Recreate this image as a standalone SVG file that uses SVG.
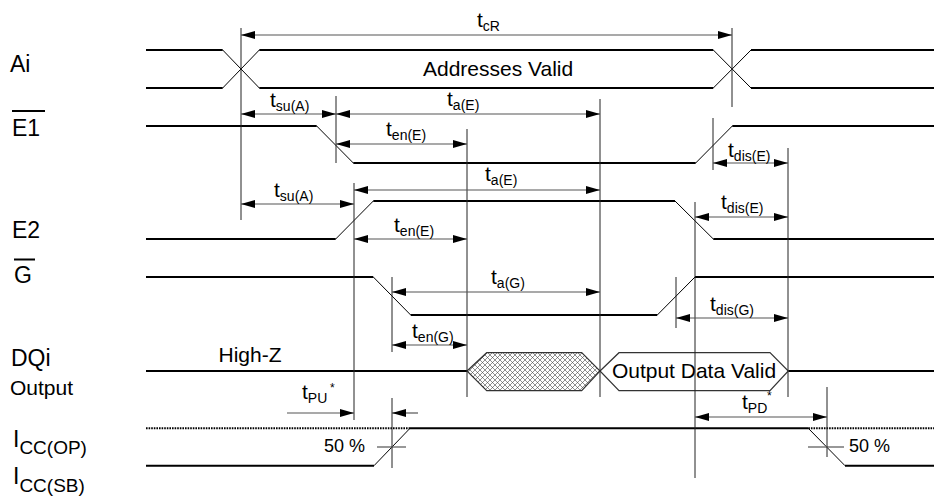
<svg xmlns="http://www.w3.org/2000/svg" width="934" height="498" viewBox="0 0 934 498">
<style>
text{font-family:"Liberation Sans",Arial,sans-serif;fill:#000}
.lbl{font-size:23px}
.mid{font-size:21px}
.t{font-size:21px}
.s{font-size:14px}
.star{font-size:12px}
.pc{font-size:18px}
.sig{stroke:#000;stroke-width:2;fill:none}
.edge{stroke:#000;stroke-width:1;fill:none}
.ref{stroke:#222;stroke-width:1;fill:none}
.dim{stroke:#555;stroke-width:1.2;fill:none;marker-start:url(#ah);marker-end:url(#ah)}
.dim1{stroke:#555;stroke-width:1.2;fill:none;marker-end:url(#ah)}
.dot{stroke:#000;stroke-width:2;fill:none;stroke-dasharray:1.6 1}
.cross{stroke:#777;stroke-width:1.3;fill:none}
</style>
<defs>
<marker id="ah" markerUnits="userSpaceOnUse" markerWidth="14" markerHeight="8" refX="14" refY="4" orient="auto-start-reverse" viewBox="0 0 14 8">
<path d="M0,0 L14,4 L0,8 z" fill="#000"/>
</marker>
<pattern id="hatch" patternUnits="userSpaceOnUse" width="5" height="5">
<rect width="5" height="5" fill="#fff"/>
<path d="M0,0 L5,5 M5,0 L0,5" stroke="#444" stroke-width="0.6"/>
</pattern>
</defs>
<rect width="934" height="498" fill="#fff"/>

<g id="labels">
<text class="lbl" x="10" y="72">Ai</text>
<text class="lbl" x="12" y="136">E1</text>
<line x1="12" y1="111" x2="45" y2="111" stroke="#000" stroke-width="2"/>
<text class="lbl" x="12" y="238">E2</text>
<text class="lbl" x="14" y="283">G</text>
<line x1="14" y1="259.5" x2="35" y2="259.5" stroke="#000" stroke-width="2"/>
<text class="lbl" x="11" y="366">DQi</text>
<text class="mid" x="10" y="395">Output</text>
<text class="lbl" x="13" y="447">I<tspan font-size="19" dy="6.5">CC(OP)</tspan></text>
<text class="lbl" x="13" y="484">I<tspan font-size="19" dy="7.5">CC(SB)</tspan></text>
</g>

<g id="sig-Ai">
<path class="sig" d="M146,50 H222.7 M146,88 H222.7 M259.3,50 H713.3 M259.3,88 H713.3 M751,50 H934 M751,88 H934"/>
<path class="edge" d="M222.7,50 L259.3,88 M222.7,88 L259.3,50 M713.3,50 L751,88 M713.3,88 L751,50"/>
<text class="mid" x="423" y="76">Addresses Valid</text>
</g>

<g id="sig-E1">
<path class="sig" d="M146,126 H316.7 M353.3,163 H695.7 M732.3,126 H934"/>
<path class="edge" d="M316.7,126 L353.3,163 M695.7,163 L732.3,126"/>
</g>

<g id="sig-E2">
<path class="sig" d="M146,239 H335.7 M373.3,201 H675 M713.3,239 H934"/>
<path class="edge" d="M335.7,239 L373.3,201 M675,201 L713.3,239"/>
</g>

<g id="sig-G">
<path class="sig" d="M146,277 H373.3 M410.7,315 H657.3 M695,277 H934"/>
<path class="edge" d="M373.3,277 L410.7,315 M657.3,315 L695,277"/>
</g>

<g id="sig-DQi">
<path class="sig" d="M146,371 H467 M788.3,371 H934"/>
<path d="M467,371 L486.7,352.7 H581.7 L600,371 L581.7,390.7 H486.7 z" fill="url(#hatch)" stroke="#333" stroke-width="1.2"/>
<path d="M600,371 L619,352.7 H770 L788.3,371 L770,390.7 H619 z" fill="none" stroke="#333" stroke-width="1.2"/>
<text class="mid" x="250" y="362" text-anchor="middle">High-Z</text>
<text class="mid" x="694" y="378" text-anchor="middle">Output Data Valid</text>
</g>

<g id="sig-ICC">
<path class="dot" d="M146,428.3 H410 M808.3,428.3 H934"/>
<path class="sig" d="M410,428.3 H808.3 M146,465.7 H374 M845,465.7 H934"/>
<path class="edge" d="M374,465.7 L410,428.3 M808.3,428.3 L845,465.7"/>
<path class="cross" d="M377,447 H406 M808,447 H844"/>
<text class="pc" x="365" y="452" text-anchor="end">50 %</text>
<text class="pc" x="849" y="452">50 %</text>
</g>

<g id="connectors">
<path class="ref" d="M241,28 V220 M732,28 V107 M336,96 V163 M600,99 V397 M467,129 V397 M713,118 V170 M788,148 V397 M354,183 V420 M392,277 V352 M392,398 V468 M695,202 V478 M676,277 V328 M827,387 V457"/>
<line class="dim" x1="241" y1="35" x2="732" y2="35"/>
<line class="dim" x1="241" y1="114" x2="336" y2="114"/>
<line class="dim" x1="336" y1="114" x2="600" y2="114"/>
<line class="dim" x1="336" y1="144" x2="467" y2="144"/>
<line class="dim" x1="713" y1="163" x2="788" y2="163"/>
<line class="dim" x1="241" y1="204" x2="354" y2="204"/>
<line class="dim" x1="354" y1="190" x2="600" y2="190"/>
<line class="dim" x1="354" y1="239" x2="467" y2="239"/>
<line class="dim" x1="695" y1="217" x2="788" y2="217"/>
<line class="dim" x1="392" y1="292" x2="600" y2="292"/>
<line class="dim" x1="676" y1="318" x2="788" y2="318"/>
<line class="dim" x1="392" y1="345" x2="467" y2="345"/>
<line class="dim1" x1="287" y1="413" x2="354" y2="413"/>
<line class="dim1" x1="418" y1="413" x2="392" y2="413"/>
<line class="dim" x1="695" y1="417" x2="827" y2="417"/>
</g>

<g id="timing-labels">
<text class="t" x="477" y="27">t<tspan class="s" dy="4">cR</tspan></text>
<text class="t" x="270" y="107">t<tspan class="s" dy="4">su(A)</tspan></text>
<text class="t" x="447" y="106">t<tspan class="s" dy="4">a(E)</tspan></text>
<text class="t" x="386" y="136">t<tspan class="s" dy="4">en(E)</tspan></text>
<text class="t" x="728" y="157">t<tspan class="s" dy="4">dis(E)</tspan></text>
<text class="t" x="274" y="197">t<tspan class="s" dy="4">su(A)</tspan></text>
<text class="t" x="485" y="181">t<tspan class="s" dy="4">a(E)</tspan></text>
<text class="t" x="394" y="232">t<tspan class="s" dy="4">en(E)</tspan></text>
<text class="t" x="491" y="284">t<tspan class="s" dy="4">a(G)</tspan></text>
<text class="t" x="721" y="209">t<tspan class="s" dy="4">dis(E)</tspan></text>
<text class="t" x="710" y="311">t<tspan class="s" dy="4">dis(G)</tspan></text>
<text class="t" x="412" y="338">t<tspan class="s" dy="4">en(G)</tspan></text>
<text class="t" x="302" y="399">t<tspan class="s" dy="4">PU</tspan></text>
<text class="star" x="330" y="392">*</text>
<text class="t" x="742" y="409">t<tspan class="s" dy="4">PD</tspan></text>
<text class="star" x="767" y="400">*</text>
</g>
</svg>
